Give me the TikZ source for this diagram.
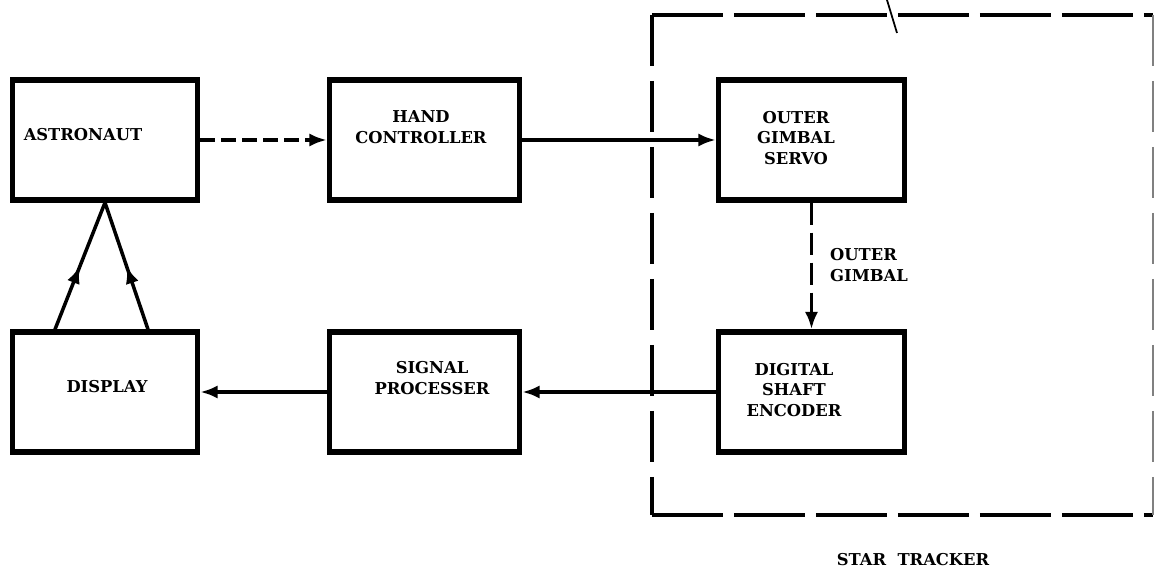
\documentclass[tikz,border=0pt]{standalone}
\usepackage{fontspec}
\setmainfont{DejaVu Serif}
\usetikzlibrary{arrows.meta,decorations.markings}

\begin{document}
\begin{tikzpicture}[x=0.02cm, y=-0.02cm,
  every node/.style={font=\bfseries\fontsize{9.3}{11.8}\selectfont, align=center},
  blk/.style={draw, line width=3pt, minimum height=2.4cm, inner sep=0pt},
  wire/.style={-{Latex[length=10pt,width=7.5pt]}, line width=2pt},
  shortdash/.style={dash pattern=on 0.3cm off 0.12cm},
  longdash/.style={line width=2.4pt, dash pattern=on 1.42cm off 0.22cm},
  sidedash/.style={line width=2.4pt, dash pattern=on 1.02cm off 0.3cm},
  midarrow/.style={line width=2pt, postaction={decorate},
    decoration={markings, mark=at position 0.5 with {\arrow{Latex[length=10pt,width=7.5pt]}}}}]
\useasboundingbox (0,0) rectangle (1156,573);

\coordinate (stNW) at (652,15);
\coordinate (stNE) at (1153,15);
\coordinate (stSW) at (652,515);
\coordinate (stSE) at (1153,515);
\draw[longdash] (stNW) -- (stNE);
\draw[longdash] (stSW) -- (stSE);
\draw[sidedash] (stNW) -- (stSW);
\draw[sidedash, line width=0.8pt, gray] (stNE) -- (stSE);
\coordinate (leadA) at (887,0);
\coordinate (leadB) at (897,33);
\draw[line width=1pt] (leadA) -- (leadB);

\node[blk, minimum width=3.7cm] (astro) at (105,140) {};
\node[blk, minimum width=3.8cm] (hand) at (424.5,140) {};
\node[blk, minimum width=3.72cm] (servo) at (811.5,140) {};
\node[blk, minimum width=3.7cm] (disp) at (105,392) {};
\node[blk, minimum width=3.8cm] (sig) at (424.5,392) {};
\node[blk, minimum width=3.72cm] (enc) at (811.5,392) {};

\node (astroT) at (83,135) {ASTRONAUT};
\node (handT) at (421,127) {HAND\\CONTROLLER};
\node (servoT) at (796,138) {OUTER\\GIMBAL\\SERVO};
\node (dispT) at (107,387) {DISPLAY};
\node (sigT) at (432,378) {SIGNAL\\PROCESSER};
\node (encT) at (794,390) {DIGITAL\\SHAFT\\ENCODER};
\node[anchor=west, align=left] (gimT) at (824,265) {OUTER\\GIMBAL};
\node (starT) at (913,560) {STAR\ \ TRACKER};

\draw[wire, shortdash] (astro) -- (hand);
\draw[wire] (hand) -- (servo);
\draw[wire, dash pattern=on 0.44cm off 0.16cm] (servo) -- (enc);
\draw[wire] (enc) -- (sig);
\draw[wire] (sig) -- (disp);
\coordinate (dl) at ([xshift=-1cm]disp.north);
\coordinate (dr) at ([xshift=0.86cm]disp.north);
\draw[midarrow] (dl) -- (astro.south);
\draw[midarrow] (dr) -- (astro.south);
\end{tikzpicture}
\end{document}
